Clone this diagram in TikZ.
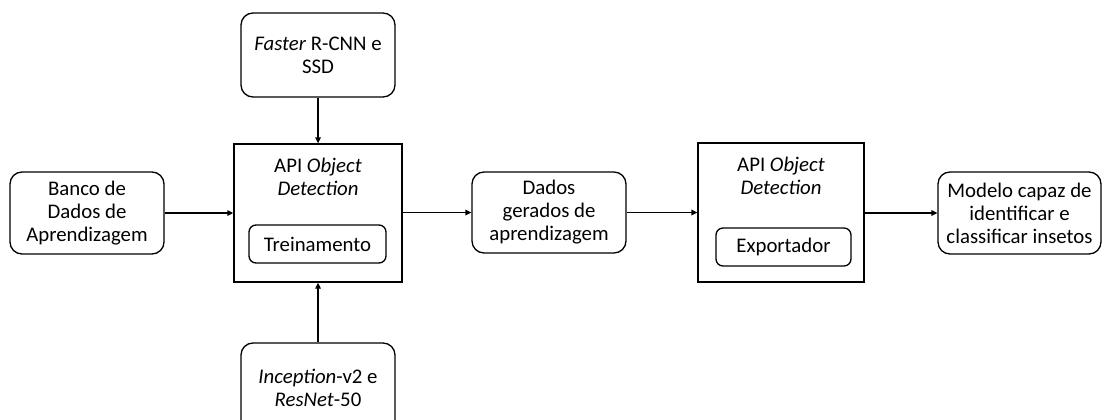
\documentclass[tikz,border=0pt]{standalone}
\usepackage{fontspec}
\setmainfont{Carlito}
\usetikzlibrary{arrows.meta}
\begin{document}
\begin{tikzpicture}[x=1pt,y=-1pt,
  every node/.style={font=\fontsize{20.8}{23}\selectfont, inner sep=0pt, align=center},
  rbox/.style={draw, line width=1.3pt, rounded corners=12pt},
  ibox/.style={draw, line width=1.3pt, rounded corners=7pt},
  sbox/.style={draw, line width=1.3pt},
  link/.style={line width=1.3pt, -{Triangle[length=6pt,width=5.5pt]}}
]
\clip (0,0) rectangle (1103,420);
\fill[white] (0,0) rectangle (1103,420);

% inputs and outputs
\node[rbox, minimum width=154pt, minimum height=82pt] (banco) at (87,213)
  {Banco de\\Dados de\\Aprendizagem};
\node[rbox, minimum width=154pt, minimum height=84pt] (faster) at (318,55)
  {\textit{Faster} R-CNN e\\SSD};
\node[rbox, minimum width=154pt, minimum height=90pt] (incep) at (318,388)
  {\textit{Inception}-v2 e\\\textit{ResNet}-50};
\node[rbox, minimum width=154pt, minimum height=81pt] (dados) at (549,212.5)
  {Dados\\gerados de\\aprendizagem};
\node[rbox, minimum width=163pt, minimum height=82pt] (modelo) at (1019.5,213)
  {Modelo capaz de\\identificar e\\classificar insetos};

% training stage
\node[sbox, minimum width=168pt, minimum height=138pt] (api1) at (318,213) {};
\node (t1) at (318,177) {API \textit{Object}\\\textit{Detection}};
\node[ibox, minimum width=137pt, minimum height=38pt] (trein) at (317.5,244) {Treinamento};

% export stage
\node[sbox, minimum width=166pt, minimum height=139pt] (api2) at (781,212.5) {};
\node (t2) at (781,176) {API \textit{Object}\\\textit{Detection}};
\node[ibox, minimum width=135pt, minimum height=38pt] (export) at (783.5,247) {Exportador};

% connectors
\draw[link] (banco.east) -- (api1.west |- banco.east);
\draw[link] (faster.south) -- (api1.north);
\draw[link] (incep.north) -- (api1.south);
\draw[link] (api1.east |- dados.west) -- (dados.west);
\draw[link] (dados.east) -- (api2.west |- dados.east);
\draw[link] (api2.east |- modelo.west) -- (modelo.west);
\end{tikzpicture}
\end{document}
